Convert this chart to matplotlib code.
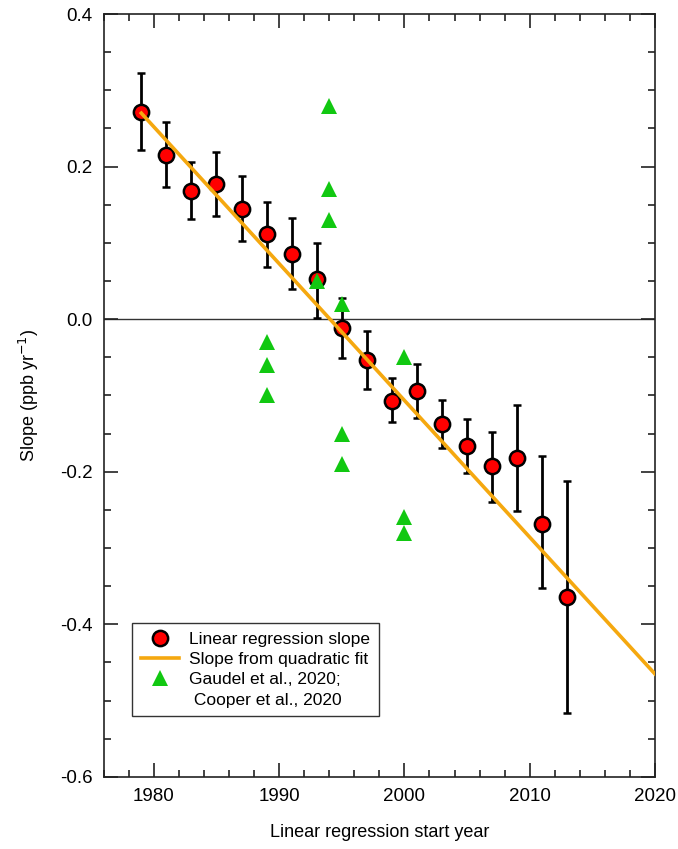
import numpy as np
import matplotlib
matplotlib.use('Agg')
import matplotlib.pyplot as plt
from matplotlib.ticker import MultipleLocator
from matplotlib.lines import Line2D

plt.rcParams['font.family'] = ['Liberation Sans', 'DejaVu Sans']
plt.rcParams['axes.unicode_minus'] = False

# linear regression slopes (ppb/yr) by start year
years = [1979, 1981, 1983, 1985, 1987, 1989, 1991, 1993, 1995,
         1997, 1999, 2001, 2003, 2005, 2007, 2009, 2011, 2013]
slope = [0.272, 0.215, 0.168, 0.177, 0.145, 0.111, 0.086, 0.052, -0.011,
         -0.054, -0.107, -0.094, -0.138, -0.166, -0.193, -0.182, -0.268, -0.364]
err_hi = [0.323, 0.258, 0.206, 0.219, 0.187, 0.153, 0.133, 0.100, 0.028,
          -0.015, -0.077, -0.059, -0.106, -0.131, -0.148, -0.113, -0.180, -0.212]
err_lo = [0.222, 0.173, 0.131, 0.135, 0.102, 0.068, 0.039, 0.002, -0.051,
          -0.091, -0.135, -0.129, -0.169, -0.202, -0.240, -0.252, -0.353, -0.516]

# derivative of the quadratic fit (linear in year)
fit_years = [1979, 2020]
fit_rate = -0.01793     # ppb/yr per yr
fit_zero = 1994.06      # year where slope crosses zero

# Gaudel et al., 2020; Cooper et al., 2020
lit_years = [1989, 1989, 1989, 1993, 1994, 1994, 1994,
             1995, 1995, 1995, 2000, 2000, 2000]
lit_slope = [-0.03, -0.06, -0.10, 0.05, 0.28, 0.17, 0.13,
             0.02, -0.15, -0.19, -0.05, -0.26, -0.28]

years = np.array(years)
slope = np.array(slope)
yerr = [slope - np.array(err_lo), np.array(err_hi) - slope]
fx = np.array(fit_years)
fy = fit_rate * (fx - fit_zero)

fig = plt.figure(figsize=(6.78, 8.49), dpi=100)
ax = fig.add_axes([0.153, 0.085, 0.813, 0.8985])

ax.axhline(0, color='#333333', lw=1.0, zorder=1)

ax.errorbar(years, slope, yerr=yerr, fmt='o', color='black', ecolor='black',
            elinewidth=2, capsize=3, capthick=2, markersize=11,
            markerfacecolor='#ff0000', markeredgecolor='black',
            markeredgewidth=1.8, zorder=2)
fl, = ax.plot(fx, fy, color='#f5a80f', lw=2.6, zorder=3,
              label='Slope from quadratic fit')
tr, = ax.plot(lit_years, lit_slope, '^', color='#11c811', markersize=12,
              markeredgewidth=0, zorder=4, label='Gaudel et al., 2020;')

dot = Line2D([], [], ls='none', marker='o', markersize=11,
             markerfacecolor='#ff0000', markeredgecolor='black',
             markeredgewidth=1.8, label='Linear regression slope')
blank = Line2D([], [], ls='none', label=' Cooper et al., 2020')

ax.set_xlim(1976, 2020)
ax.set_ylim(-0.6, 0.4)
ax.xaxis.set_major_locator(MultipleLocator(10))
ax.xaxis.set_minor_locator(MultipleLocator(2))
ax.yaxis.set_major_locator(MultipleLocator(0.2))
ax.yaxis.set_minor_locator(MultipleLocator(0.05))
ax.tick_params(which='both', direction='in', top=True, right=True,
               labelsize=13.5, pad=8, color='#222222')
ax.tick_params(which='major', length=10, width=1.2)
ax.tick_params(which='minor', length=5, width=1.2)
for s in ax.spines.values():
    s.set_linewidth(1.2)
    s.set_color('#222222')

ax.set_xlabel('Linear regression start year', fontsize=13, labelpad=14)
ax.set_ylabel('Slope (ppb yr$^{-1}$)', fontsize=13, labelpad=14)

leg = ax.legend(handles=[dot, fl, tr, blank], loc='upper left',
                bbox_to_anchor=(0.051, 0.202), borderaxespad=0,
                fontsize=12.5, frameon=True, fancybox=False, edgecolor='black',
                handlelength=2.2, labelspacing=0.3, borderpad=0.5,
                handletextpad=0.6)
leg.get_frame().set_linewidth(1.0)

fig.savefig('out.png', dpi=100)
